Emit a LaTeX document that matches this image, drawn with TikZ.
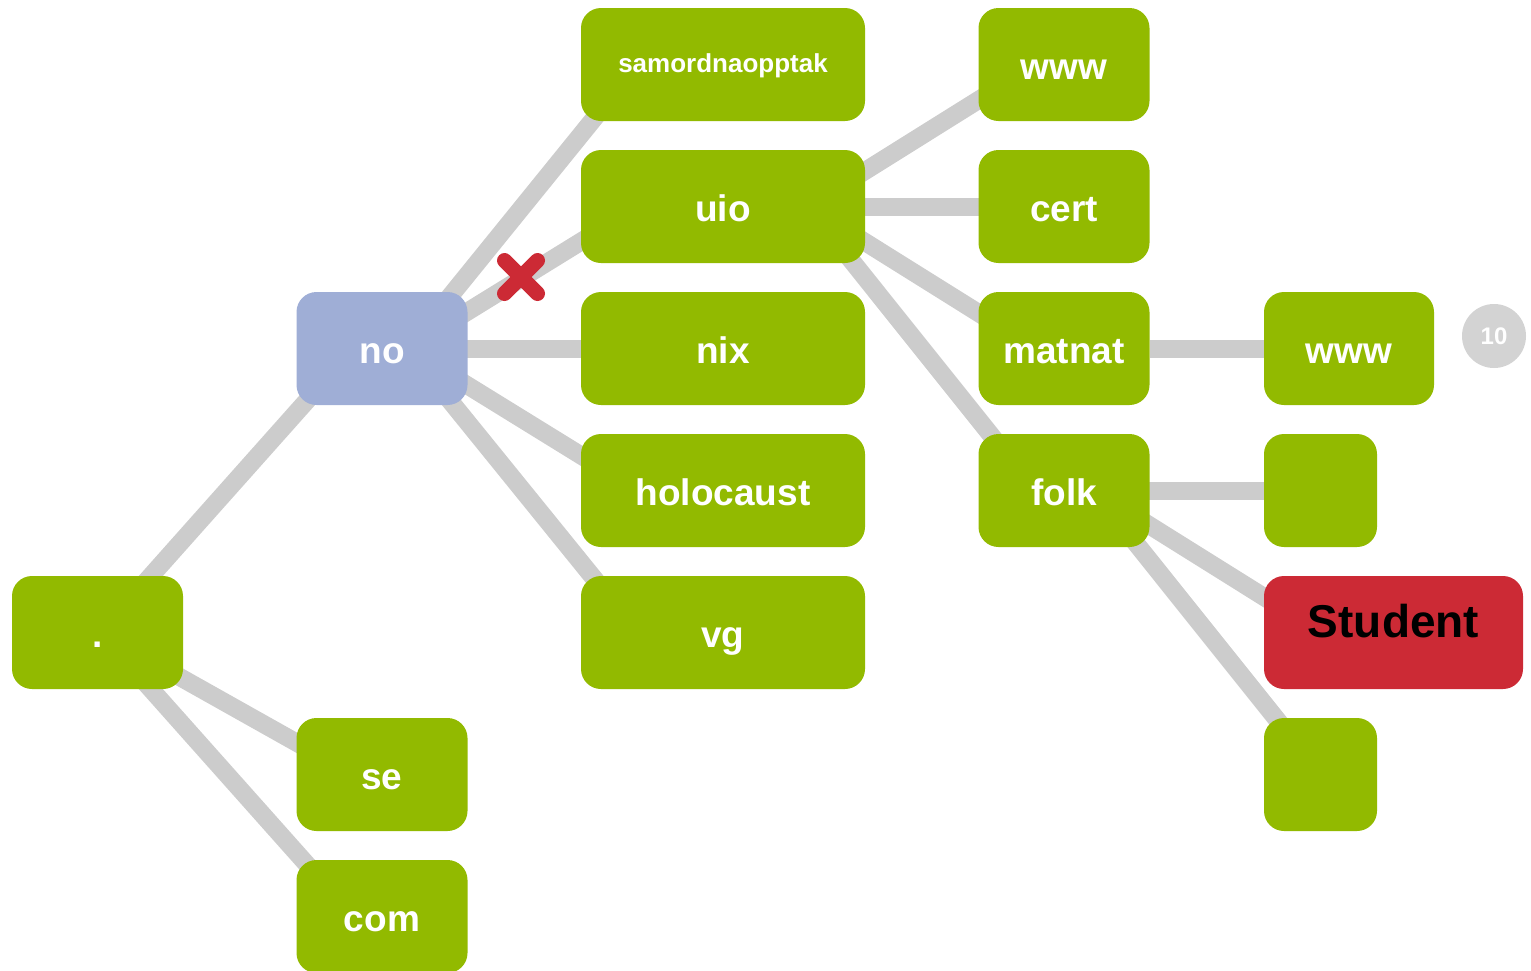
\documentclass[tikz,border=0pt]{standalone}
\usepackage{fontspec}
\setmainfont{Liberation Sans}
\usetikzlibrary{backgrounds}
\definecolor{leafgreen}{HTML}{92BA00}
\definecolor{zoneblue}{HTML}{9FAED6}
\definecolor{hitred}{HTML}{CC2A35}
\definecolor{edgegray}{HTML}{CCCCCC}
\definecolor{badgegray}{HTML}{D3D3D3}
\newcommand{\lbl}{\fontsize{37}{40}\selectfont\bfseries}

\begin{document}
\begin{tikzpicture}[x=1pt,y=-1pt,
   dom/.style={fill=leafgreen, text=white, rounded corners=20pt, inner sep=0pt,
               minimum width=171pt, minimum height=113pt, font=\lbl,
               text height=29pt, text depth=0pt},
   wide/.style={dom, minimum width=284pt},
   stub/.style={dom, minimum width=113pt},
   edge/.style={draw=edgegray, line width=18pt},
   cutmark/.style={draw=hitred, line width=15pt, line cap=round}]
   \useasboundingbox (0,0) rectangle (1531,970);
   % level 0 and 1
   \node[dom] (root) at ( 97.5,632.5) {.};
   \node[dom, fill=zoneblue] (no) at (382,348.5) {no};
   \node[dom] (se)   at (382,774.5) {se};
   \node[dom] (com)  at (382,916.5) {com};
   % level 2
   \node[wide, font=\fontsize{26}{28}\selectfont\bfseries, text height=19pt, text depth=3pt]
         (samordna) at (723, 64.5) {samordnaopptak};
   \node[wide] (uio)  at (723,206.5) {uio};
   \node[wide] (nix)  at (723,348.5) {nix};
   \node[wide] (holo) at (723,490.5) {holocaust};
   \node[wide] (vg)   at (723,632.5) {vg};
   % level 3
   \node[dom] (wwwuio) at (1064, 64.5) {www};
   \node[dom] (cert)   at (1064,206.5) {cert};
   \node[dom] (matnat) at (1064,348.5) {matnat};
   \node[dom] (folk)   at (1064,490.5) {folk};
   % level 4
   \node[dom, minimum width=170pt] (wwwmat) at (1349,348.5) {www};
   \node[stub] (blanka) at (1320.5,490.5) {};
   \node[dom, fill=hitred, text=black, minimum width=259pt,
         font=\fontsize{46}{48}\selectfont\bfseries, text height=32pt, text depth=23pt]
         (student) at (1393.5,632.5) {Student};
   \node[stub] (blankb) at (1320.5,774.5) {};
   \node[circle, fill=badgegray, text=white, minimum size=64pt, inner sep=0pt,
         font=\fontsize{24}{26}\selectfont\bfseries] (badge) at (1494,336) {10};
   \begin{scope}[on background layer]
      \draw[edge] ([xshift=3pt]root.center) -- ([xshift=57pt]no.west);
      \draw[edge] ([xshift=3pt]root.center) -- ([xshift=57pt]se.west);
      \draw[edge] ([xshift=3pt]root.center) -- ([xshift=57pt]com.west);
      \foreach \kid in {samordna,uio,nix,holo,vg}
         \draw[edge] ([xshift=-60pt]no.east) -- ([xshift=57pt]\kid.west);
      \foreach \kid in {wwwuio,cert,matnat,folk}
         \draw[edge] ([xshift=-57pt]uio.east) -- ([xshift=57pt]\kid.west);
      \draw[edge] (matnat) -- (wwwmat);
      \foreach \kid in {blanka,student,blankb}
         \draw[edge] ([xshift=-56pt]folk.east) -- ([xshift=57pt]\kid.west);
   \end{scope}
   \coordinate (cut) at (521,277);
   \draw[cutmark] ([shift={(-16.5,-16.5)}]cut) -- ([shift={(16.5,16.5)}]cut)
                  ([shift={(-16.5,16.5)}]cut) -- ([shift={(16.5,-16.5)}]cut);
\end{tikzpicture}
\end{document}
